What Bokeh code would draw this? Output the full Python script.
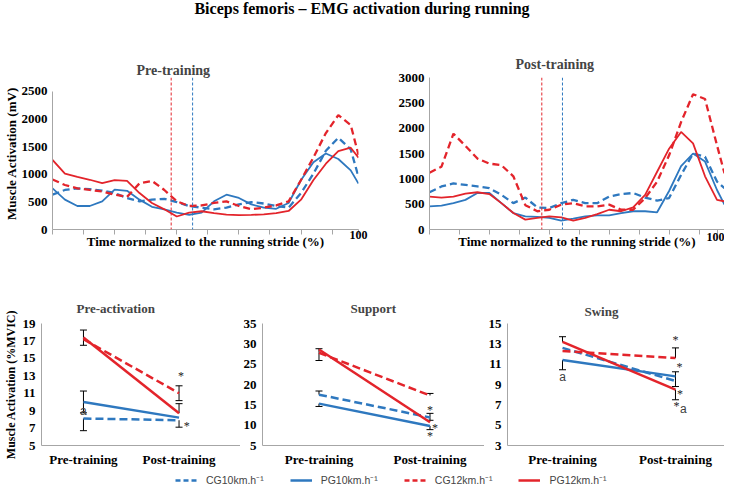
from bokeh.plotting import figure
from bokeh.models import (Range1d, FixedTicker, Legend, LegendItem, Whisker,
                          TeeHead, ColumnDataSource, Div, Span)
from bokeh.layouts import column, row
from bokeh.embed import file_html
from bokeh.resources import INLINE
from bokeh.core.properties import value

# ---------------- data ----------------
MAIN_TITLE = "Biceps femoris – EMG activation during running"
SERIES = ["CG10km.h⁻¹", "PG10km.h⁻¹", "CG12km.h⁻¹", "PG12km.h⁻¹"]

stride_x = [0, 4, 8, 12, 16, 20, 24, 28, 32, 36, 40, 44, 48, 52, 56, 60, 64, 68, 72, 76,
            80, 84, 88, 92, 96, 98.5]
stride_ticks = [0, 10, 20, 30, 40, 50, 60, 70, 80, 90]

pre_cg10 = [630, 715, 745, 730, 705, 660, 570, 510, 540, 555, 495, 425, 395, 365, 395, 455,
            495, 470, 425, 395, 660, 1010, 1425, 1660, 1450, 950]
pre_pg10 = [745, 540, 425, 425, 510, 720, 700, 540, 410, 365, 305, 265, 305, 510, 630, 570,
            455, 395, 375, 480, 895, 1215, 1375, 1275, 1070, 830]
pre_cg12 = [905, 805, 745, 715, 690, 630, 590, 835, 880, 715, 510, 425, 435, 480, 510, 425,
            365, 395, 435, 510, 895, 1305, 1745, 2070, 1890, 1350]
pre_pg12 = [1258, 1010, 950, 900, 840, 895, 880, 660, 480, 365, 235, 305, 330, 295, 270, 260,
            265, 275, 295, 335, 540, 895, 1190, 1420, 1480, 1300]

post_cg10 = [735, 850, 910, 880, 850, 815, 685, 520, 630, 435, 425, 520, 585, 520, 520, 650,
             700, 720, 630, 570, 620, 1075, 1500, 1435, 945, 815]
post_pg10 = [455, 470, 520, 585, 720, 720, 520, 325, 260, 250, 230, 175, 215, 260, 280, 280,
             325, 360, 360, 340, 760, 1250, 1500, 1340, 780, 490]
post_cg12 = [1120, 1240, 1890, 1650, 1400, 1300, 1270, 1050, 480, 360, 390, 490, 520, 455, 455,
             490, 390, 390, 620, 945, 1465, 2120, 2670, 2575, 1660, 1110]
post_pg12 = [650, 630, 650, 710, 735, 700, 520, 325, 195, 230, 260, 240, 175, 230, 305, 390,
             360, 435, 685, 1140, 1595, 1925, 1700, 1050, 585, 555]

pre_marks = [38.2, 45.1]    # red, blue vertical dashed markers
post_marks = [37.5, 44.4]

phases = ["Pre-training", "Post-training"]

# Pre-activation (%MVIC): [pre, post]
pa_cg10 = [8.1, 7.9]
pa_pg10 = [10.0, 8.2]
pa_cg12 = [17.2, 11.0]
pa_pg12 = [17.4, 8.7]
pa_up = [[0, 0], [1.25, 0], [0, 0.85], [0.85, 1.1]]
pa_dn = [[1.4, 0.8], [1.25, 0], [0, 0.85], [0.9, 0]]

# Support
su_cg10 = [17.5, 11.9]
su_pg10 = [15.3, 9.8]
su_cg12 = [27.8, 17.3]
su_pg12 = [28.6, 10.7]
su_up = [[0.9, 1.0], [0, 0], [1.0, 0.5], [0, 0]]
su_dn = [[0, 0.7], [0.7, 0.9], [1.9, 0], [0, 0]]

# Swing
sw_cg10 = [12.6, 9.35]
sw_pg10 = [11.4, 9.8]
sw_cg12 = [12.3, 11.6]
sw_pg12 = [13.2, 8.5]
sw_up = [[0, 0.9], [0, 0], [0, 1.0], [0.5, 0]]
sw_dn = [[0, 0.55], [0.95, 0], [0, 0], [0, 1.0]]

# significance marks: text, x (phase index), y
pa_marks_t = ["a", "*", "*"]
pa_marks_x = [0, 1.02, 1.08]
pa_marks_y = [8.95, 13.0, 7.25]
su_marks_t = ["*", "*", "*"]
su_marks_x = [1.0, 1.045, 1.0]
su_marks_y = [13.8, 9.3, 7.4]
sw_marks_t = ["a", "*", "*", "*", "*", "a"]
sw_marks_x = [0, 1.0, 1.035, 1.04, 1.01, 1.07]
sw_marks_y = [9.75, 13.4, 10.7, 8.1, 6.9, 6.6]

# ---------------- style ----------------
BLUE = "#2E78BF"
RED = "#E3242B"
AXIS = "#A6A6A6"
SERIF = "Liberation Serif"
COLORS = [BLUE, BLUE, RED, RED]
DASHED = [True, False, True, False]


def style_axis(ax, size="13px"):
    ax.axis_line_color = AXIS
    ax.major_tick_line_color = AXIS
    ax.minor_tick_line_color = None
    ax.major_tick_in = 0
    ax.major_label_text_font = SERIF
    ax.major_label_text_font_style = "bold"
    ax.major_label_text_font_size = size
    ax.major_label_text_color = "black"
    ax.axis_label_text_font = SERIF
    ax.axis_label_text_font_style = "bold"
    ax.axis_label_text_font_size = size
    ax.axis_label_text_color = "black"


def base_fig(width, height, xr, yr, mb, title, title_offset, title_standoff):
    p = figure(width=width, height=height, x_range=xr, y_range=yr,
               output_backend="svg", toolbar_location=None,
               min_border_left=mb[0], min_border_right=mb[1],
               min_border_top=mb[2], min_border_bottom=mb[3])
    p.outline_line_color = None
    p.grid.grid_line_color = None
    p.background_fill_color = "white"
    p.title.text = title
    p.title.text_font = SERIF
    p.title.text_font_style = "bold"
    p.title.text_font_size = "14px"
    p.title.align = "left"
    p.title.offset = title_offset
    p.title.standoff = title_standoff
    return p


TOP_H = 226


def top_panel(width, mb, yend, ymax, ystep, series, marks, title, toff, tstand, ylabel,
              end_tick, lab_standoff, axlab_standoff):
    p = base_fig(width, TOP_H, Range1d(0, 98.5), Range1d(0, yend), mb, title, toff, tstand)
    style_axis(p.xaxis[0])
    style_axis(p.yaxis[0])
    p.yaxis[0].ticker = FixedTicker(ticks=list(range(0, ymax + 1, ystep)))
    p.yaxis[0].bounds = (0, ymax)
    p.yaxis[0].major_tick_out = 0
    p.yaxis[0].major_label_standoff = 5
    p.yaxis[0].axis_label_standoff = 0
    if ylabel:
        p.yaxis[0].axis_label = ylabel
    ax = p.xaxis[0]
    ax.ticker = FixedTicker(ticks=stride_ticks + [end_tick])
    overrides = {t: "" for t in stride_ticks}
    overrides[end_tick] = "100"
    ax.major_label_overrides = overrides
    ax.major_label_text_font_size = "12px"
    ax.major_tick_out = 5
    ax.major_label_standoff = lab_standoff
    ax.axis_label = "Time normalized to the running stride (%)"
    ax.axis_label_standoff = axlab_standoff
    p.add_layout(Span(location=marks[0], dimension="height", line_color=RED,
                      line_width=1, line_dash="3 2"))
    p.add_layout(Span(location=marks[1], dimension="height", line_color=BLUE,
                      line_width=1, line_dash="3 2"))
    for ys, c, d in zip(series, COLORS, DASHED):
        p.line(stride_x, ys, line_color=c, line_width=2.3 if d else 1.8,
               line_dash="7 4" if d else "solid")
    return p


tl = top_panel(384, (46, 26, 38, 33), 2750, 2500, 500,
               [pre_cg10, pre_pg10, pre_cg12, pre_pg12], pre_marks,
               "Pre-training", 84, 0, "Muscle Activation (mV)", 98.5, -4, -8)
tr = top_panel(340, (45, 0, 41, 32), 3000, 3000, 500,
               [post_cg10, post_pg10, post_cg12, post_pg12], post_marks,
               "Post-training", 86, 12, None, 96, -2, -10)

BOT_H = 210


def bottom_panel(width, mb, xr, yr, ytick_list, series, ups, dns, title, toff, tstand,
                 ylabel, mk_t, mk_x, mk_y):
    p = base_fig(width, BOT_H, xr, yr, mb, title, toff, tstand)
    p.title.text_font_size = "13px"
    style_axis(p.xaxis[0])
    style_axis(p.yaxis[0])
    p.yaxis[0].ticker = FixedTicker(ticks=ytick_list)
    p.yaxis[0].major_tick_out = 0
    p.yaxis[0].major_label_standoff = 6
    p.yaxis[0].axis_label_standoff = 2
    if ylabel:
        p.yaxis[0].axis_label = ylabel
        p.yaxis[0].axis_label_text_font_size = "12px"
    p.xaxis[0].ticker = FixedTicker(ticks=[0, 1])
    p.xaxis[0].major_label_overrides = {0: phases[0], 1: phases[1]}
    p.xaxis[0].major_tick_out = 0
    p.xaxis[0].major_label_standoff = 6
    for ys, up, dn, c, d in zip(series, ups, dns, COLORS, DASHED):
        p.line([0, 1], ys, line_color=c, line_width=2.5, line_dash="8 4" if d else "solid")
        bx, bl, bu = [], [], []
        for i in range(2):
            if up[i] > 0:
                bx.append(i); bl.append(ys[i]); bu.append(ys[i] + up[i])
        if bx:
            p.add_layout(Whisker(source=ColumnDataSource(dict(x=bx, lo=bl, hi=bu)),
                                 base="x", lower="lo", upper="hi", line_color="black",
                                 line_width=1, lower_head=None,
                                 upper_head=TeeHead(size=7, line_color="black", line_width=1)))
        bx, bl, bu = [], [], []
        for i in range(2):
            if dn[i] > 0:
                bx.append(i); bl.append(ys[i] - dn[i]); bu.append(ys[i])
        if bx:
            p.add_layout(Whisker(source=ColumnDataSource(dict(x=bx, lo=bl, hi=bu)),
                                 base="x", lower="lo", upper="hi", line_color="black",
                                 line_width=1, upper_head=None,
                                 lower_head=TeeHead(size=7, line_color="black", line_width=1)))
    stars = [i for i, t in enumerate(mk_t) if t == "*"]
    letters = [i for i, t in enumerate(mk_t) if t == "a"]
    if stars:
        p.text([mk_x[i] for i in stars], [mk_y[i] for i in stars], text=["*"] * len(stars),
               text_font=value(SERIF), text_font_size="12px", text_color="#222222",
               text_align="center", text_baseline="middle")
    if letters:
        p.text([mk_x[i] for i in letters], [mk_y[i] for i in letters],
               text=["a"] * len(letters), text_font=value("Liberation Sans"),
               text_font_size="12px", text_color="#404040",
               text_align="center", text_baseline="middle")
    return p


pa = bottom_panel(240, (36, 0, 59, 27), Range1d(-0.439, 1.643), Range1d(5, 19),
                  [5, 7, 9, 11, 13, 15, 17, 19], [pa_cg10, pa_pg10, pa_cg12, pa_pg12],
                  pa_up, pa_dn, "Pre-activation", 35, 15, "Muscle Activation (%MVIC)",
                  pa_marks_t, pa_marks_x, pa_marks_y)
su = bottom_panel(244, (20, 0, 60, 25), Range1d(-0.509, 1.491), Range1d(5, 35),
                  [5, 10, 15, 20, 25, 30, 35], [su_cg10, su_pg10, su_cg12, su_pg12],
                  su_up, su_dn, "Support", 88, 16, None,
                  su_marks_t, su_marks_x, su_marks_y)
sw = bottom_panel(240, (23, 0, 61, 23), Range1d(-0.487, 1.434), Range1d(3, 15),
                  [3, 5, 7, 9, 11, 13, 15], [sw_cg10, sw_pg10, sw_cg12, sw_pg12],
                  sw_up, sw_dn, "Swing", 77, 9, None,
                  sw_marks_t, sw_marks_x, sw_marks_y)

# legend strip (legend renderers hold off-range placeholder points only)
leg = figure(width=724, height=15, x_range=Range1d(0, 1), y_range=Range1d(0, 1),
             output_backend="svg", toolbar_location=None, min_border=0,
             x_axis_location=None, y_axis_location=None)
leg.outline_line_color = None
leg.grid.grid_line_color = None
items = []
for name, c, d in zip(SERIES, COLORS, DASHED):
    r = leg.line(x=[-5, -4], y=[-5, -5], line_color=c, line_width=2.5,
                 line_dash="5 3" if d else "solid")
    items.append(LegendItem(label=name, renderers=[r]))
legend = Legend(items=items, orientation="horizontal", location=(175, 0), spacing=26,
                glyph_width=22, glyph_height=12, label_height=12, label_standoff=9,
                padding=0, margin=0, border_line_alpha=0, background_fill_alpha=0,
                label_text_font="Liberation Sans", label_text_font_size="10.5px")
leg.add_layout(legend, "center")

title_div = Div(text=('<div style="width:724px; text-align:center; line-height:18px; '
                      'font-family:\'Liberation Serif\'; font-weight:bold; '
                      'font-size:16px;">' + MAIN_TITLE + '</div>'), width=724, height=36, margin=0)

layout = column(title_div, row(tl, tr), row(pa, su, sw), leg)
open("out.html", "w").write(file_html(layout, INLINE))
